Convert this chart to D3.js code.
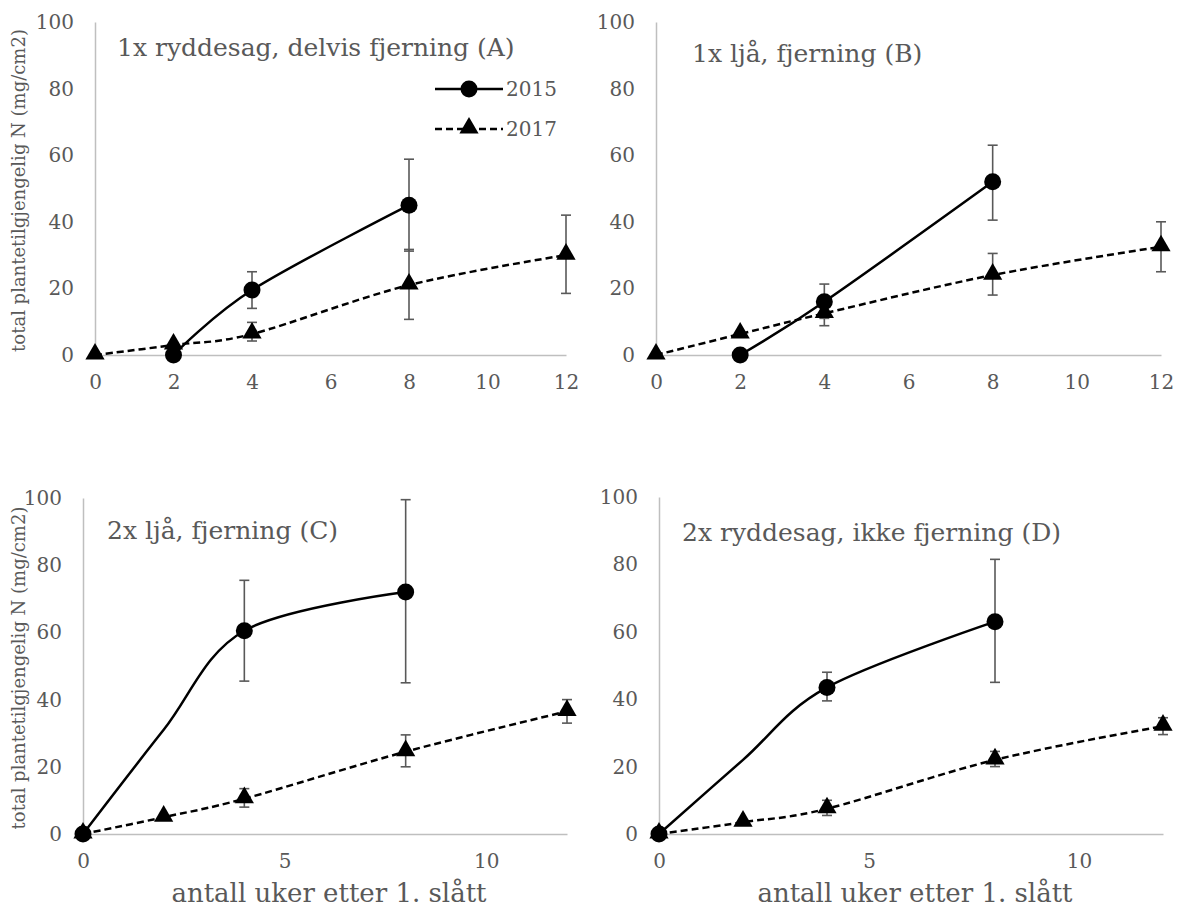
<!DOCTYPE html>
<html>
<head>
<meta charset="utf-8">
<script src="https://cdn.jsdelivr.net/npm/d3@7"></script>
<style>
  html, body { margin: 0; padding: 0; background: #ffffff; }
  svg { display: block; }
  text { font-family: "DejaVu Serif", serif; fill: #595959; }
</style>
</head>
<body>
<svg id="chart" width="1179" height="916"></svg>
<script>
// ---------- data ----------
const panelTitles = ["1x ryddesag, delvis fjerning (A)", "1x ljå, fjerning (B)", "2x ljå, fjerning (C)", "2x ryddesag, ikke fjerning (D)"];
const seriesNames = ["2015", "2017"];
const yTicks = [0, 20, 40, 60, 80, 100];
const xTicksTop = [0, 2, 4, 6, 8, 10, 12];
const xTicksBottom = [0, 5, 10];
const yTitle = "total plantetilgjengelig N (mg/cm2)";
const xTitle = "antall uker etter 1. slått";

// Panel A
const weeks2015A = [2, 4, 8];
const n2015A = [0, 19.5, 45];
const lo2015A = [null, 14, 31.2];
const hi2015A = [null, 25, 58.8];
const mark2015A = [true, true, true];
const weeks2017A = [0, 2, 4, 8, 12];
const n2017A = [0, 3, 6.3, 21, 30];
const lo2017A = [null, null, 4.2, 10.7, 18.5];
const hi2017A = [null, null, 9.8, 31.7, 42];
const mark2017A = [true, true, true, true, true];

// Panel B
const weeks2015B = [2, 4, 8];
const n2015B = [0, 16, 52];
const lo2015B = [null, 11, 40.5];
const hi2015B = [null, 21.3, 63];
const mark2015B = [true, true, true];
const weeks2017B = [0, 2, 4, 8, 12];
const n2017B = [0, 6.3, 12.5, 24, 32.5];
const lo2017B = [null, null, 8.8, 18, 25];
const hi2017B = [null, null, 15.5, 30.5, 40];
const mark2017B = [true, true, true, true, true];

// Panel C
const weeks2015C = [0, 2, 4, 8];
const n2015C = [0, 31, 60.5, 72];
const lo2015C = [null, null, 45.5, 45];
const hi2015C = [null, null, 75.5, 99.5];
const mark2015C = [true, false, true, true];
const weeks2017C = [0, 2, 4, 8, 12];
const n2017C = [0, 5, 10.5, 24.5, 36.5];
const lo2017C = [null, null, 8, 20, 33];
const hi2017C = [null, null, 13.5, 29.5, 40];
const mark2017C = [true, true, true, true, true];

// Panel D
const weeks2015D = [0, 2, 4, 8];
const n2015D = [0, 22, 43.5, 63];
const lo2015D = [null, null, 39.5, 45];
const hi2015D = [null, null, 48, 81.5];
const mark2015D = [true, false, true, true];
const weeks2017D = [0, 2, 4, 8, 12];
const n2017D = [0, 3.5, 7.5, 22, 32];
const lo2017D = [null, null, 5.5, 20, 29.5];
const hi2017D = [null, null, 10, 24.5, 34.5];
const mark2017D = [true, true, true, true, true];

// ---------- build ----------
function series(w, n, lo, hi, mk) {
  return w.map((x, i) => ({ x: x, y: n[i], lo: lo[i], hi: hi[i], mark: mk[i] }));
}
const panels = [
  { title: panelTitles[0], s2015: series(weeks2015A, n2015A, lo2015A, hi2015A, mark2015A), s2017: series(weeks2017A, n2017A, lo2017A, hi2017A, mark2017A),
    left: 95, right: 566, top: 22, bottom: 355, xt: xTicksTop, yTitle: true, xTitle: false, legend: true, titleX: 117, titleY: 56 },
  { title: panelTitles[1], s2015: series(weeks2015B, n2015B, lo2015B, hi2015B, mark2015B), s2017: series(weeks2017B, n2017B, lo2017B, hi2017B, mark2017B),
    left: 656, right: 1161, top: 22, bottom: 355, xt: xTicksTop, yTitle: false, xTitle: false, legend: false, titleX: 692, titleY: 62 },
  { title: panelTitles[2], s2015: series(weeks2015C, n2015C, lo2015C, hi2015C, mark2015C), s2017: series(weeks2017C, n2017C, lo2017C, hi2017C, mark2017C),
    left: 83, right: 567, top: 498, bottom: 834, xt: xTicksBottom, yTitle: true, xTitle: true, legend: false, titleX: 107, titleY: 539 },
  { title: panelTitles[3], s2015: series(weeks2015D, n2015D, lo2015D, hi2015D, mark2015D), s2017: series(weeks2017D, n2017D, lo2017D, hi2017D, mark2017D),
    left: 659, right: 1163, top: 497, bottom: 834, xt: xTicksBottom, yTitle: false, xTitle: true, legend: false, titleX: 682, titleY: 541 }
];

const svg = d3.select("#chart");
const axisColor = "#bfbfbf";
const errColor = "#595959";
const curve = d3.curveCardinal.tension(0);
const triangle = d3.symbol().type(d3.symbolTriangle).size(160);
const dash = "7,4";

panels.forEach(p => {
  const x = d3.scaleLinear().domain([0, 12]).range([p.left, p.right]);
  const y = d3.scaleLinear().domain([0, 100]).range([p.bottom, p.top]);
  const g = svg.append("g");

  // y axis
  const ya = g.append("g").attr("transform", `translate(${p.left},0)`)
    .call(d3.axisLeft(y).tickValues(yTicks).tickSize(0).tickPadding(21).tickFormat(d3.format("d")));
  ya.select(".domain").attr("stroke", axisColor).attr("stroke-width", 1.5);
  ya.selectAll("text").style("font-family", "DejaVu Serif").style("font-size", "20px").attr("fill", "#595959");

  // x axis
  const xa = g.append("g").attr("transform", `translate(0,${p.bottom})`)
    .call(d3.axisBottom(x).tickValues(p.xt).tickSize(0).tickPadding(20).tickFormat(d3.format("d")));
  xa.select(".domain").attr("stroke", axisColor).attr("stroke-width", 1.5);
  xa.selectAll("text").style("font-family", "DejaVu Serif").style("font-size", "20px").attr("fill", "#595959");

  // title
  g.append("text").attr("x", p.titleX).attr("y", p.titleY)
    .style("font-size", "25px").text(p.title);

  if (p.yTitle) {
    g.append("text")
      .attr("transform", `translate(25,${(p.top + p.bottom) / 2 + 2}) rotate(-90)`)
      .attr("text-anchor", "middle")
      .style("font-size", "18px").text(yTitle);
  }
  if (p.xTitle) {
    g.append("text").attr("x", (p.left + p.right) / 2 + 4).attr("y", 902)
      .attr("text-anchor", "middle")
      .style("font-size", "26px").text(xTitle);
  }

  const line = d3.line().x(d => x(d.x)).y(d => y(d.y)).curve(curve);

  // error bars
  [p.s2015, p.s2017].forEach(s => {
    const eb = g.append("g").attr("stroke", errColor).attr("stroke-width", 1.6);
    s.filter(d => d.lo != null).forEach(d => {
      eb.append("line").attr("x1", x(d.x)).attr("x2", x(d.x)).attr("y1", y(d.lo)).attr("y2", y(d.hi));
      eb.append("line").attr("x1", x(d.x) - 5).attr("x2", x(d.x) + 5).attr("y1", y(d.lo)).attr("y2", y(d.lo));
      eb.append("line").attr("x1", x(d.x) - 5).attr("x2", x(d.x) + 5).attr("y1", y(d.hi)).attr("y2", y(d.hi));
    });
  });

  // lines
  g.append("path").datum(p.s2015).attr("d", line).attr("fill", "none")
    .attr("stroke", "#000").attr("stroke-width", 2.5);
  g.append("path").datum(p.s2017).attr("d", line).attr("fill", "none")
    .attr("stroke", "#000").attr("stroke-width", 2.5).attr("stroke-dasharray", dash);

  // markers
  g.selectAll(".c").data(p.s2015.filter(d => d.mark)).enter().append("circle")
    .attr("cx", d => x(d.x)).attr("cy", d => y(d.y)).attr("r", 8.5).attr("fill", "#000");
  g.selectAll(".t").data(p.s2017.filter(d => d.mark)).enter().append("path")
    .attr("d", triangle).attr("transform", d => `translate(${x(d.x)},${y(d.y) - 1})`).attr("fill", "#000");

  if (p.legend) {
    const lg = g.append("g");
    const rows = [{ name: seriesNames[0], dash: null, sym: "c" }, { name: seriesNames[1], dash: dash, sym: "t" }];
    rows.forEach((r, i) => {
      const ly = 89 + i * 40;
      lg.append("line").attr("x1", 435).attr("x2", 503).attr("y1", ly).attr("y2", ly)
        .attr("stroke", "#000").attr("stroke-width", 2.5).attr("stroke-dasharray", r.dash);
      if (r.sym === "c") lg.append("circle").attr("cx", 469).attr("cy", ly).attr("r", 8.5).attr("fill", "#000");
      else lg.append("path").attr("d", triangle).attr("transform", `translate(469,${ly - 1})`).attr("fill", "#000");
      lg.append("text").attr("x", 506).attr("y", ly + 7).style("font-size", "20px").text(r.name);
    });
  }
});
</script>
</body>
</html>
